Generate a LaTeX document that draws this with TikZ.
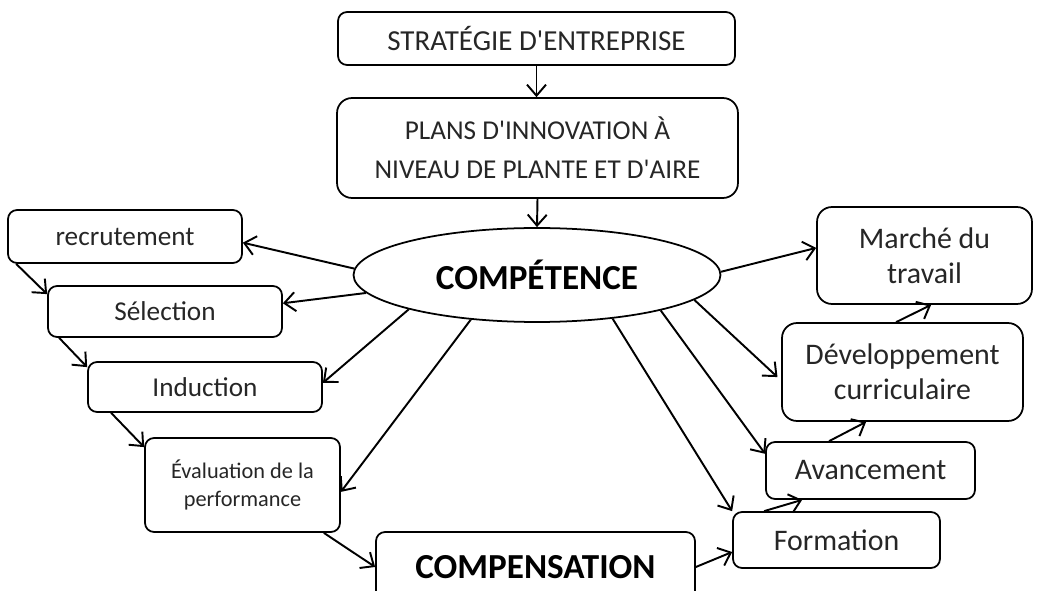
\documentclass[tikz,border=0pt]{standalone}
\usepackage{fontspec}
\setmainfont{Carlito}
\usetikzlibrary{
  positioning,
  arrows.meta,
  shapes.geometric
}

\tikzset{
  box/.style={draw,rounded corners=0.18cm,line width=1pt,align=center,inner sep=0pt,
    text=black!85,font=\fontsize{15.5}{22}\selectfont},
  bigbox/.style={box,rounded corners=0.3cm,font=\fontsize{17}{20}\selectfont},
  boldtext/.style={text=black,font=\fontsize{20}{22}\selectfont\bfseries},
  arr/.style={-{Straight Barb[length=0.22cm,width=0.38cm]},line width=1.1pt}
}

\begin{document}
\begin{tikzpicture}[x=0.02cm,y=-0.02cm]
  \clip (0,0) rectangle (1039,591);
  % 上の箱
  \node[box,minimum width=7.94cm,minimum height=1.06cm,font=\fontsize{16.5}{22}\selectfont] (strat) at (536.5,38.5) {STRATÉGIE D\textquotesingle ENTREPRISE};
  \node[box,rounded corners=0.3cm,minimum width=8.02cm,minimum height=2cm] (plans) at (537.5,148)
    {PLANS D\textquotesingle INNOVATION À\\NIVEAU DE PLANTE ET D\textquotesingle AIRE};
  % 中心
  \node[draw,ellipse,line width=1pt,inner sep=0pt,minimum width=7.34cm,minimum height=1.88cm,boldtext] (comp) at (537,275) {COMPÉTENCE};
  % 左側
  \node[box,minimum width=4.68cm,minimum height=1.06cm] (rec) at (125,236.5) {recrutement};
  \node[box,minimum width=4.68cm,minimum height=1.02cm] (sel) at (165,311.5) {Sélection};
  \node[box,minimum width=4.68cm,minimum height=1cm] (ind) at (205,387) {Induction};
  \node[box,minimum width=3.9cm,minimum height=1.88cm,font=\fontsize{12.7}{15.5}\selectfont] (eval) at (242.5,485)
    {Évaluation de la\\performance};
  \node[box,minimum width=6.38cm,minimum height=1.4cm,boldtext] (compens) at (535.5,567) {COMPENSATION};
  % 右側
  \node[bigbox,minimum width=4.3cm,minimum height=1.94cm] (marche) at (924.5,255.5) {Marché du\\travail};
  \node[bigbox,minimum width=4.82cm,minimum height=1.96cm] (dev) at (902.5,372) {Développement\\curriculaire};
  \node[box,minimum width=4.18cm,minimum height=1.14cm,font=\fontsize{17}{20}\selectfont] (avanc) at (870.5,470.5) {Avancement};
  \node[box,minimum width=4.14cm,minimum height=1.12cm,font=\fontsize{17}{20}\selectfont] (form) at (836.5,540) {Formation};
  % 矢印
  \draw[arr] (strat.south) -- (strat.south |- plans.north);
  \draw[arr] (plans.south) -- (comp.north);
  \draw[arr] (comp.178) -- (rec.-3);
  \draw[arr] (comp.186) -- (sel.4);
  \draw[arr] (comp.195) -- (ind.2);
  \draw[arr] (comp.214) -- (eval.-4);
  \draw[arr] (comp.1) -- (marche.176);
  \draw[arr,shorten >=0.1cm] (comp.-9) -- (dev.184);
  \draw[arr] (comp.-16) -- (avanc.171);
  \draw[arr] (comp.-30) -- (form.north west);
  % 流れ
  \draw[arr] ([xshift=0.18cm]rec.south west) -- ([yshift=-0.18cm]sel.north west);
  \draw[arr] ([xshift=0.24cm]sel.south west) -- ([yshift=-0.12cm]ind.north west);
  \draw[arr] ([xshift=0.48cm]ind.south west) -- ([yshift=-0.2cm]eval.north west);
  \draw[arr] ([xshift=-0.34cm]eval.south east) -- (compens.west);
  \draw[arr] (compens.east) -- ([yshift=-0.24cm]form.west);
  \draw[arr] ([xshift=0.64cm]form.north west) -- ([xshift=0.74cm]avanc.south west);
  \draw[arr] ([xshift=1.28cm]avanc.north west) -- ([xshift=1.7cm]dev.south west);
  \draw[arr] ([xshift=2.3cm]dev.north west) -- ([xshift=2.3cm]marche.south west);
\end{tikzpicture}
\end{document}
